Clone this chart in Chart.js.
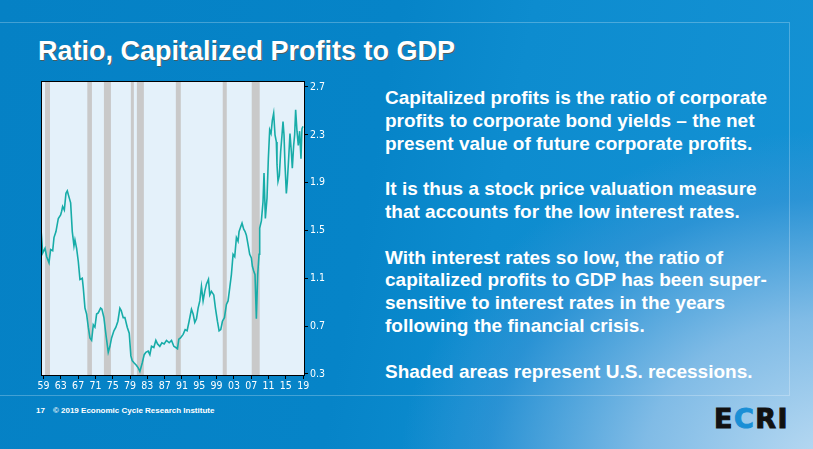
<!DOCTYPE html>
<html>
<head>
<meta charset="utf-8">
<script src="https://cdn.jsdelivr.net/npm/chart.js@4.4.1/dist/chart.umd.min.js"></script>
<style>
  html, body { margin: 0; padding: 0; }
  body {
    width: 813px; height: 449px; overflow: hidden; position: relative;
    font-family: "Liberation Sans", Arial, sans-serif;
    background:
      radial-gradient(ellipse 440px 340px at 840px 470px, rgba(200,225,245,0.95) 0%, rgba(140,192,232,0.9) 45%, rgba(60,150,215,0.6) 80%, rgba(20,135,205,0) 100%),
      linear-gradient(100deg, #0581c5 0%, #0684c8 45%, #0d8ccf 60%, #1592d4 100%);
  }
  .frame {
    position: absolute; left: -2px; top: 22px; width: 790px; height: 372px;
    border: 1px solid rgba(255,255,255,0.25);
  }
  .title {
    position: absolute; left: 38px; top: 36px; margin: 0;
    font-size: 27px; font-weight: bold; color: #fff;
    text-shadow: 1px 1px 0 rgba(120,70,30,0.6);
  }
  .notes {
    position: absolute; left: 385px; top: 87px; width: 425px;
    color: #fff; font-size: 19px; font-weight: bold; line-height: 22.8px;
    white-space: nowrap;
  }
  .notes p { margin: 0 0 22.8px 0; }
  .footer {
    position: absolute; left: 36px; top: 406px;
    color: #fff; font-size: 8px; font-weight: bold;
  }
  .footer span { margin-left: 8px; }
  .logo {
    position: absolute; left: 714px; top: 403px;
    font-family: "DejaVu Sans", sans-serif; font-weight: bold;
    font-size: 27px; letter-spacing: 1.5px; color: #111;
    -webkit-text-stroke: 1px #111;
  }
  .logo b { color: #1a8fd6; -webkit-text-stroke: 1px #1a8fd6; }
  #wrap { position: absolute; left: 0; top: 0; width: 360px; height: 420px; }
</style>
</head>
<body>
<div class="frame"></div>
<h1 class="title">Ratio, Capitalized Profits to GDP</h1>
<div class="notes">
  <p>Capitalized profits is the ratio of corporate<br>profits to corporate bond yields – the net<br>present value of future corporate profits.</p>
  <p>It is thus a stock price valuation measure<br>that accounts for the low interest rates.</p>
  <p>With interest rates so low, the ratio of<br>capitalized profits to GDP has been super-<br>sensitive to interest rates in the years<br>following the financial crisis.</p>
  <p>Shaded areas represent U.S. recessions.</p>
</div>
<div class="footer">17<span>© 2019 Economic Cycle Research Institute</span></div>
<div class="logo">E<b>C</b>RI</div>
<div id="wrap"><canvas id="chart"></canvas></div>

<script>
// time axis in years, values are the capitalized profits / GDP ratio
const years = [1958.42, 1958.81, 1959.35, 1959.73, 1960.27, 1960.65, 1961.12, 1961.42, 1961.88, 1962.42,
  1962.96, 1963.19, 1963.42, 1963.81, 1964.19, 1964.50, 1964.96, 1965.27, 1965.65, 1966.04,
  1966.27, 1966.65, 1967.04, 1967.42, 1967.96, 1968.19, 1968.58, 1968.96, 1969.35, 1969.73,
  1970.12, 1970.50, 1970.88, 1971.27, 1971.65, 1972.19, 1972.50, 1972.96, 1973.42, 1973.96,
  1974.35, 1974.73, 1975.27, 1975.73, 1976.19, 1976.65, 1976.96, 1977.42, 1977.81, 1978.35,
  1978.81, 1979.19, 1979.50, 1979.96, 1980.50, 1980.88, 1981.27, 1981.81, 1982.27, 1982.65,
  1983.19, 1983.58, 1983.96, 1984.50, 1984.96, 1985.35, 1985.88, 1986.35, 1986.88, 1987.42,
  1988.04, 1988.58, 1989.12, 1989.58, 1989.96, 1990.27, 1990.65, 1991.27, 1991.73, 1992.19,
  1992.65, 1993.19, 1993.58, 1993.96, 1994.35, 1994.73, 1995.12, 1995.50, 1995.88, 1996.27,
  1996.65, 1997.12, 1997.42, 1997.81, 1998.35, 1998.73, 1999.19, 1999.58, 1999.96, 2000.35,
  2000.81, 2001.27, 2001.65, 2002.04, 2002.42, 2002.81, 2003.19, 2003.58, 2003.96, 2004.19,
  2004.58, 2004.88, 2005.27, 2005.58, 2005.88, 2006.27, 2006.65, 2007.04, 2007.27, 2007.58,
  2007.88, 2008.19, 2008.50, 2008.81, 2008.96, 2009.35, 2009.73, 2009.96, 2010.27, 2010.65,
  2010.96, 2011.27, 2011.58, 2011.88, 2012.19, 2012.50, 2012.81, 2012.96, 2013.19, 2013.50,
  2013.81, 2014.12, 2014.35, 2014.58, 2014.81, 2015.12, 2015.35, 2015.65, 2015.96, 2016.27,
  2016.50, 2016.81, 2017.04, 2017.27, 2017.58, 2017.88, 2018.19, 2018.50, 2018.73, 2018.96];

const ratio = [1.51, 1.31, 1.35, 1.28, 1.23, 1.34, 1.33, 1.44, 1.49, 1.60,
  1.63, 1.66, 1.70, 1.67, 1.81, 1.83, 1.77, 1.73, 1.49, 1.37,
  1.42, 1.35, 1.24, 1.09, 1.10, 1.02, 0.85, 0.80, 0.69, 0.60,
  0.58, 0.71, 0.69, 0.80, 0.81, 0.85, 0.84, 0.77, 0.63, 0.48,
  0.53, 0.60, 0.66, 0.69, 0.74, 0.85, 0.83, 0.77, 0.77, 0.69,
  0.64, 0.45, 0.41, 0.39, 0.37, 0.35, 0.32, 0.39, 0.46, 0.48,
  0.49, 0.46, 0.53, 0.52, 0.58, 0.55, 0.53, 0.56, 0.55, 0.58,
  0.56, 0.58, 0.53, 0.52, 0.51, 0.59, 0.60, 0.63, 0.67, 0.66,
  0.74, 0.84, 0.80, 0.73, 0.76, 0.85, 0.91, 1.03, 0.91, 0.99,
  1.05, 1.09, 0.96, 0.99, 0.96, 0.85, 0.74, 0.66, 0.67, 0.74,
  0.77, 0.88, 0.91, 1.02, 1.13, 1.30, 1.28, 1.44, 1.41, 1.49,
  1.53, 1.56, 1.51, 1.49, 1.46, 1.38, 1.30, 1.27, 1.20, 1.16,
  1.13, 0.76, 1.13, 1.30, 1.52, 1.58, 1.74, 1.98, 1.60, 1.77,
  2.10, 2.34, 2.31, 2.42, 2.48, 2.30, 2.24, 2.05, 1.91, 1.96,
  2.16, 2.30, 2.41, 2.30, 2.05, 1.81, 1.91, 2.10, 2.31, 2.16,
  2.02, 2.21, 2.30, 2.51, 2.33, 2.21, 2.33, 2.10, 2.35, 2.37];

// shaded recession periods [start, end]
const recessionStart = [1959.35, 1969.12, 1972.96, 1979.19, 1980.58, 1989.58, 2000.42, 2007.12];
const recessionEnd   = [1960.50, 1970.19, 1974.58, 1979.88, 1982.19, 1990.73, 2001.35, 2008.96];

const xTickYears = [1959, 1963, 1967, 1971, 1975, 1979, 1983, 1987, 1991, 1995, 1999, 2003, 2007, 2011, 2015, 2019];
const xTickLabels = ['59', '63', '67', '71', '75', '79', '83', '87', '91', '95', '99', '03', '07', '11', '15', '19'];
const yTicks = [0.3, 0.7, 1.1, 1.5, 1.9, 2.3, 2.7];

const shading = {
  id: 'shading',
  beforeDraw(chart) {
    const { ctx, chartArea: a, scales: { x } } = chart;
    ctx.save();
    ctx.fillStyle = '#e4f1fa';
    ctx.fillRect(a.left, a.top, a.right - a.left, a.bottom - a.top);
    ctx.fillStyle = '#c9c9c9';
    recessionStart.forEach((s, i) => {
      const x0 = x.getPixelForValue(s);
      const x1 = x.getPixelForValue(recessionEnd[i]);
      ctx.fillRect(x0, a.top, x1 - x0, a.bottom - a.top);
    });
    ctx.restore();
  },
  afterDraw(chart) {
    const { ctx, chartArea: a } = chart;
    ctx.save();
    ctx.strokeStyle = '#000';
    ctx.lineWidth = 1;
    ctx.strokeRect(Math.round(a.left) + 0.5, Math.round(a.top) + 0.5, Math.round(a.right - a.left), Math.round(a.bottom - a.top));
    ctx.restore();
  }
};

Chart.defaults.font.family = "'Liberation Sans Narrow', 'DejaVu Sans Condensed', Arial, sans-serif";

new Chart(document.getElementById('chart'), {
  type: 'line',
  data: {
    datasets: [{
      data: years.map((yr, i) => ({ x: yr, y: ratio[i] })),
      borderColor: '#17aca8',
      borderWidth: 1.6,
      pointRadius: 0,
      tension: 0
    }]
  },
  options: {
    responsive: true,
    maintainAspectRatio: false,
    animation: false,
    layout: { padding: { left: 41, top: 81, right: 0, bottom: 0 } },
    plugins: { legend: { display: false }, tooltip: { enabled: false } },
    scales: {
      x: {
        type: 'linear',
        min: 1958.42,
        max: 2019.2,
        afterBuildTicks: (scale) => { scale.ticks = xTickYears.map(v => ({ value: v })); },
        afterFit: (scale) => { scale.height = 45; },
        grid: { drawOnChartArea: false, drawTicks: true, tickLength: 4, color: '#000' },
        border: { display: true, color: '#000', width: 1 },
        ticks: {
          color: '#fff',
          font: { size: 10.5 },
          padding: 1,
          maxRotation: 0,
          autoSkip: false,
          callback: (v) => xTickLabels[xTickYears.indexOf(v)]
        }
      },
      y: {
        position: 'right',
        min: 0.29,
        max: 2.75,
        afterBuildTicks: (scale) => { scale.ticks = yTicks.map(v => ({ value: v })); },
        afterFit: (scale) => { scale.width = 56; },
        grid: { drawOnChartArea: false, drawTicks: true, tickLength: 4, color: '#000' },
        border: { display: true, color: '#000', width: 1 },
        ticks: {
          color: '#fff',
          font: { size: 10.5 },
          padding: 2,
          callback: (v) => v.toFixed(1)
        }
      }
    }
  },
  plugins: [shading]
});
</script>
</body>
</html>
